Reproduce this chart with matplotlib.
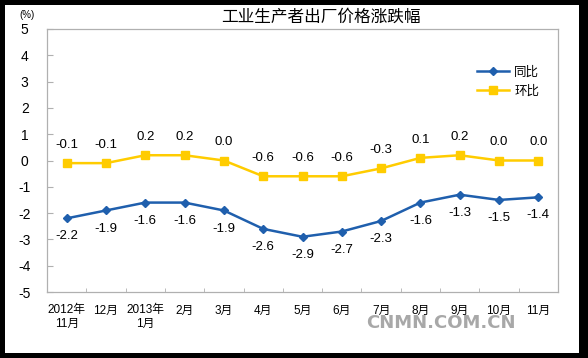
import matplotlib
matplotlib.use("Agg")
import matplotlib.pyplot as plt
from matplotlib.patches import Rectangle

plt.rcParams["font.family"] = ["Liberation Sans", "Noto Sans CJK SC", "DejaVu Sans"]

months = ["2012年\n11月", "12月", "2013年\n1月", "2月", "3月", "4月", "5月",
          "6月", "7月", "8月", "9月", "10月", "11月"]
yoy = [-2.2, -1.9, -1.6, -1.6, -1.9, -2.6, -2.9, -2.7, -2.3, -1.6, -1.3, -1.5, -1.4]
mom = [-0.1, -0.1, 0.2, 0.2, 0.0, -0.6, -0.6, -0.6, -0.3, 0.1, 0.2, 0.0, 0.0]
yticks = list(range(-5, 6))

W, H = 588, 358
fig = plt.figure(figsize=(W / 100, H / 100), dpi=100)
fig.patch.set_facecolor("black")
# white card inside the black border
fig.patches.append(Rectangle((5 / W, 5 / H), 574 / W, 348 / H,
                             transform=fig.transFigure, facecolor="white",
                             edgecolor="none", zorder=-1))

ax = fig.add_axes([47 / W, 1 - 292 / H, 511 / W, 263 / H])
ax.set_facecolor("white")
x = list(range(len(months)))

blue = "#1f5fad"
yellow = "#ffcc00"
ax.plot(x, yoy, color=blue, lw=1.8, marker="D", ms=4.5, label="同比")
ax.plot(x, mom, color=yellow, lw=1.8, marker="s", ms=6, label="环比")

for xi, v in zip(x, yoy):
    ax.annotate(f"{v:.1f}", (xi, v), xytext=(0, -13), textcoords="offset points",
                ha="center", va="center", fontsize=9.5)
for xi, v in zip(x, mom):
    ax.annotate(f"{v:.1f}", (xi, v), xytext=(0, 13), textcoords="offset points",
                ha="center", va="center", fontsize=9.5)

ax.set_xlim(-0.5, len(months) - 0.5)
ax.set_ylim(-5, 5)
ax.set_yticks(yticks)
ax.set_yticklabels([str(t) for t in yticks], fontsize=10)
ax.set_xticks(x)
ax.set_xticklabels(months, fontsize=8.5, linespacing=1.2)
ax.set_xticks([i - 0.5 for i in range(len(months) + 1)], minor=True)
ax.tick_params(axis="x", which="major", length=0, pad=9)
ax.tick_params(axis="x", which="minor", length=3, direction="in", color="#b0b0b0")
ax.tick_params(axis="y", length=4, direction="in", color="#b0b0b0", pad=16)
for sp in ax.spines.values():
    sp.set_color("#b0b0b0")
    sp.set_linewidth(0.9)
for lbl in ax.get_yticklabels():
    lbl.set_ha("center")

ax.legend(loc="upper right", bbox_to_anchor=(0.985, 0.9), frameon=False,
          fontsize=9, handlelength=2.6, handletextpad=0.4, labelspacing=0.5)

fig.text(321 / W, 1 - 17 / H, "工业生产者出厂价格涨跌幅", ha="center", va="center",
         fontsize=12)
fig.text(27 / W, 1 - 15 / H, "(%)", ha="center", va="center", fontsize=7)
fig.text(441 / W, 1 - 323 / H, "CNMN.COM.CN", ha="center", va="center",
         fontsize=13, fontweight="bold", color="#a8a8a8", family="DejaVu Sans")

fig.savefig("out.png", dpi=100, facecolor=fig.get_facecolor())
